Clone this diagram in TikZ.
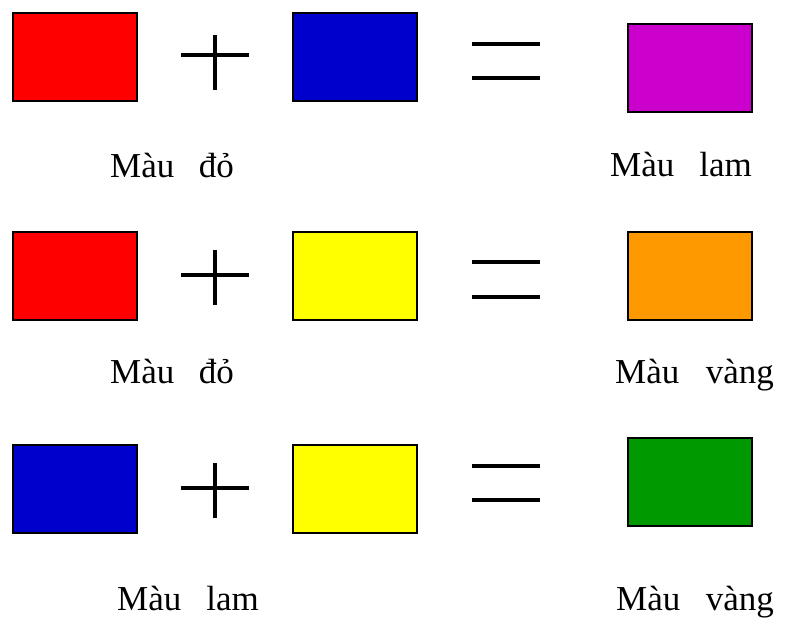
\documentclass[tikz,border=0pt]{standalone}
\usepackage{fontspec}
\setmainfont{Liberation Serif}
\definecolor{cred}{HTML}{FF0000}
\definecolor{cblue}{HTML}{0000CC}
\definecolor{cmag}{HTML}{CC00CC}
\definecolor{cyel}{HTML}{FFFF00}
\definecolor{corange}{HTML}{FF9900}
\definecolor{cgreen}{HTML}{009900}
\begin{document}
\begin{tikzpicture}[x=1pt,y=-1pt,
  swatch/.style={draw=black,line width=1.5pt,minimum width=124pt,minimum height=88pt,inner sep=0pt,anchor=north west},
  sym/.style={line width=4pt,black},
  lbl/.style={anchor=base west,font=\fontsize{35}{40}\selectfont,inner sep=0pt},
  lblr/.style={anchor=base east,font=\fontsize{35}{40}\selectfont,inner sep=0pt}]
\useasboundingbox (0,0) rectangle (786,619);
% Row 1
\node[swatch,fill=cred]  (a1) at (12,12) {};
\node[swatch,fill=cblue] (b1) at (292,12) {};
\node[swatch,fill=cmag]  (c1) at (627,23) {};
\draw[sym] (181,55) -- (249,55) (215,35) -- (215,90);
\draw[sym] (472,44) -- (540,44) (472,78) -- (540,78);
\node[lbl]  (la1a) at (110,177) {Màu};
\node[lblr] (la1b) at (234,177) {đỏ};
\node[lbl]  (lc1a) at (610,176) {Màu};
\node[lblr] (lc1b) at (752,176) {lam};
% Row 2
\node[swatch,fill=cred]    (a2) at (12,231) {};
\node[swatch,fill=cyel]    (b2) at (292,231) {};
\node[swatch,fill=corange] (c2) at (627,231) {};
\draw[sym] (181,275) -- (249,275) (215,250) -- (215,305);
\draw[sym] (472,262) -- (540,262) (472,297) -- (540,297);
\node[lbl]  (la2a) at (110,383) {Màu};
\node[lblr] (la2b) at (234,383) {đỏ};
\node[lbl]  (lc2a) at (615,383) {Màu};
\node[lblr] (lc2b) at (774,383) {vàng};
% Row 3
\node[swatch,fill=cblue]  (a3) at (12,444) {};
\node[swatch,fill=cyel]   (b3) at (292,444) {};
\node[swatch,fill=cgreen] (c3) at (627,437) {};
\draw[sym] (181,488) -- (249,488) (215,463) -- (215,518);
\draw[sym] (472,466) -- (540,466) (472,500) -- (540,500);
\node[lbl]  (la3a) at (117,610) {Màu};
\node[lblr] (la3b) at (259,610) {lam};
\node[lbl]  (lc3a) at (616,610) {Màu};
\node[lblr] (lc3b) at (774,610) {vàng};
\end{tikzpicture}
\end{document}
